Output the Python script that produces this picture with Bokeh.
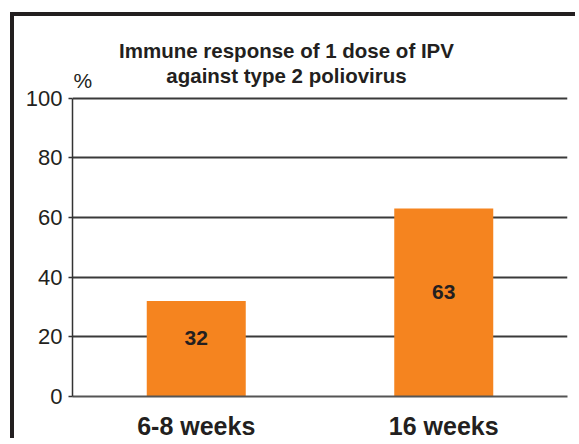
from bokeh.plotting import figure
from bokeh.models import ColumnDataSource, Label, LabelSet, Range1d, FixedTicker
from bokeh.core.properties import value
from bokeh.embed import file_html
from bokeh.resources import INLINE

categories = ["6-8 weeks", "16 weeks"]
values = [32, 63]
value_labels = ["32", "63"]
y_ticks = [0, 20, 40, 60, 80, 100]
title_lines = ["Immune response of 1 dose of IPV", "against type 2 poliovirus"]
unit_label = "%"

TEXT = "#231f20"
ORANGE = "#f5841f"
FONT = "Liberation Sans"
Y_TOP = 127.4   # head room above 100 that holds the title

xs = [i + 0.5 for i in range(len(categories))]
src = ColumnDataSource(dict(x=xs, val=values,
                            half=[v / 2 for v in values], lab=value_labels))

p = figure(x_range=Range1d(0, len(categories)), y_range=Range1d(0, Y_TOP),
           width=565, height=426, output_backend="svg", toolbar_location=None,
           min_border_left=58, min_border_right=12, min_border_top=0, min_border_bottom=44)
p.styles = {"border-left": "4px solid #231f20", "border-top": "4px solid #231f20",
            "margin-left": "10px", "margin-top": "12px"}
p.outline_line_color = None
p.background_fill_color = "white"
p.border_fill_color = "white"

p.vbar(x="x", top="val", width=0.4, source=src, fill_color=ORANGE, line_color=None)

p.xgrid.grid_line_color = None
p.ygrid.grid_line_color = "#3a3a3a"
p.ygrid.grid_line_width = 2
p.ygrid.ticker = FixedTicker(ticks=y_ticks)

p.yaxis.ticker = FixedTicker(ticks=y_ticks)
p.yaxis.bounds = (min(y_ticks), max(y_ticks))
p.yaxis.axis_line_color = "#333333"
p.yaxis.axis_line_width = 1.5
p.yaxis.major_tick_line_color = "#333333"
p.yaxis.major_tick_line_width = 1.5
p.yaxis.major_tick_out = 4
p.yaxis.major_tick_in = 0
p.yaxis.minor_tick_line_color = None
p.yaxis.major_label_standoff = 6
p.yaxis.major_label_text_font = FONT
p.yaxis.major_label_text_font_size = "22px"
p.yaxis.major_label_text_color = TEXT

p.xaxis.ticker = FixedTicker(ticks=xs)
p.xaxis.major_label_overrides = {x: c for x, c in zip(xs, categories)}
p.xaxis.axis_line_color = "#555555"
p.xaxis.axis_line_width = 2
p.xaxis.major_tick_line_color = None
p.xaxis.major_tick_out = 0
p.xaxis.major_tick_in = 0
p.xaxis.minor_tick_line_color = None
p.xaxis.major_label_standoff = 15
p.xaxis.major_label_text_font = FONT
p.xaxis.major_label_text_font_size = "25px"
p.xaxis.major_label_text_font_style = "bold"
p.xaxis.major_label_text_color = TEXT

p.add_layout(LabelSet(x="x", y="half", text="lab", source=src, y_offset=11,
                      text_align="center", text_baseline="middle", text_font=value(FONT),
                      text_font_size=value("21px"), text_font_style=value("bold"),
                      text_color=value(TEXT)))

for line, off in zip(title_lines, [48, 23]):
    p.add_layout(Label(x=0.8646, y=100, y_offset=off, text=line, text_align="center",
                       text_baseline="middle", text_font=FONT, text_font_size="20.5px",
                       text_font_style="bold", text_color=TEXT))

p.add_layout(Label(x=0, y=100, x_offset=1, y_offset=18, text=unit_label, text_align="left",
                   text_baseline="middle", text_font=FONT, text_font_size="21px",
                   text_color=TEXT))

open("out.html", "w").write(file_html(p, INLINE))
